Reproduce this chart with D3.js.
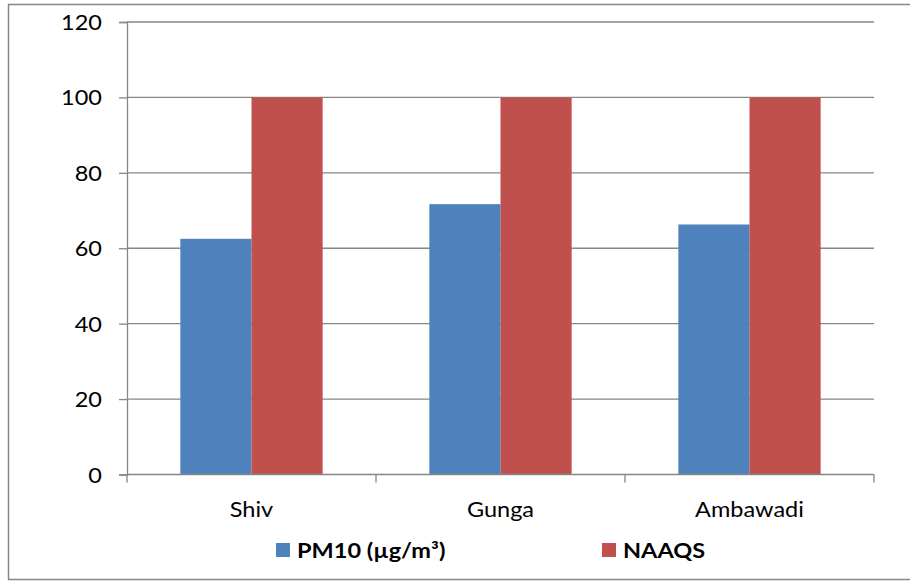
<!DOCTYPE html>
<html>
<head>
<meta charset="utf-8">
<script src="https://cdn.jsdelivr.net/npm/d3@7"></script>
<style>
  body { margin: 0; background: #fff; }
  text { font-family: Lato, "Open Sans", sans-serif; fill: #000; }
</style>
</head>
<body>
<div id="chart"></div>
<script>
// chart data
var sites = ['Shiv', 'Gunga', 'Ambawadi']
var pm10 = [62.5, 71.7, 66.3]
var naaqs = [100, 100, 100]
var series_names = ['PM10 (µg/m³)', 'NAAQS']
var series_colors = ['#4F81BD', '#C0504D']
var y_ticks = [0, 20, 40, 60, 80, 100, 120]

var width = 910, height = 581
var plot_l = 127, plot_r = 874, plot_t = 22, plot_b = 474.5
var sx = 1.12 // text is a bit wider than the font draws it
var fs = 21

var svg = d3.select('#chart')
    .append('svg')
    .attr('width', width)
    .attr('height', height)

// outer border
svg.append('rect')
    .attr('x', 8.5).attr('y', 4.5)
    .attr('width', 910).attr('height', 575)
    .attr('fill', 'none')
    .attr('stroke', '#868686')
    .attr('stroke-width', 1.5)

var x = d3.scaleBand().domain(sites).range([plot_l, plot_r])
var y = d3.scaleLinear().domain([0, 120]).range([plot_b, plot_t])

// gridlines
svg.selectAll('.grid')
    .data(y_ticks.slice(1))
    .enter()
    .append('line')
    .attr('x1', plot_l).attr('x2', plot_r)
    .attr('y1', d => y(d)).attr('y2', d => y(d))
    .attr('stroke', '#868686')
    .attr('stroke-width', 1.3)

// bars, excel gap width 150%
var bar_w = x.bandwidth() / 3.5
var table = sites.map((s, i) => [pm10[i], naaqs[i]])
sites.forEach((s, i) => {
    table[i].forEach((v, j) => {
        svg.append('rect')
            .attr('x', x(s) + x.bandwidth() * 0.75 / 3.5 + j * bar_w)
            .attr('y', y(v))
            .attr('width', bar_w)
            .attr('height', y(0) - y(v))
            .attr('fill', series_colors[j])
    })
})

// y axis
var y_axis = svg.append('g')
    .attr('transform', `translate(${plot_l},0)`)
    .call(d3.axisLeft(y).tickValues(y_ticks).tickSize(8))
y_axis.select('.domain').attr('stroke', '#868686').attr('stroke-width', 1.3)
y_axis.selectAll('.tick line').attr('stroke', '#868686').attr('stroke-width', 1.3)
y_axis.selectAll('.tick text')
    .attr('font-family', 'Lato')
    .attr('font-size', fs)
    .attr('x', null)
    .attr('dy', '0.36em')
    .attr('transform', `translate(-25,0) scale(${sx},1)`)

// x axis
var x_axis = svg.append('g')
    .attr('transform', `translate(0,${plot_b})`)
x_axis.append('line')
    .attr('x1', plot_l).attr('x2', plot_r)
    .attr('stroke', '#868686').attr('stroke-width', 1.3)
var edges = sites.map(s => x(s)).concat([plot_r])
x_axis.selectAll('.xtick')
    .data(edges)
    .enter()
    .append('line')
    .attr('x1', d => d).attr('x2', d => d)
    .attr('y1', 0).attr('y2', 8)
    .attr('stroke', '#868686').attr('stroke-width', 1.3)
x_axis.selectAll('.xlabel')
    .data(sites)
    .enter()
    .append('text')
    .attr('text-anchor', 'middle')
    .attr('font-size', fs)
    .attr('transform', d => `translate(${x(d) + x.bandwidth() / 2},42.5) scale(${sx},1)`)
    .text(d => d)

// legend
var legend_x = [276, 602]
series_names.forEach((name, i) => {
    svg.append('rect')
        .attr('x', legend_x[i]).attr('y', 543)
        .attr('width', 14).attr('height', 14)
        .attr('fill', series_colors[i])
    svg.append('text')
        .attr('font-size', fs)
        .attr('font-weight', 'bold')
        .attr('transform', `translate(${legend_x[i] + 21},557.5) scale(${sx},1)`)
        .text(name)
})
</script>
</body>
</html>
